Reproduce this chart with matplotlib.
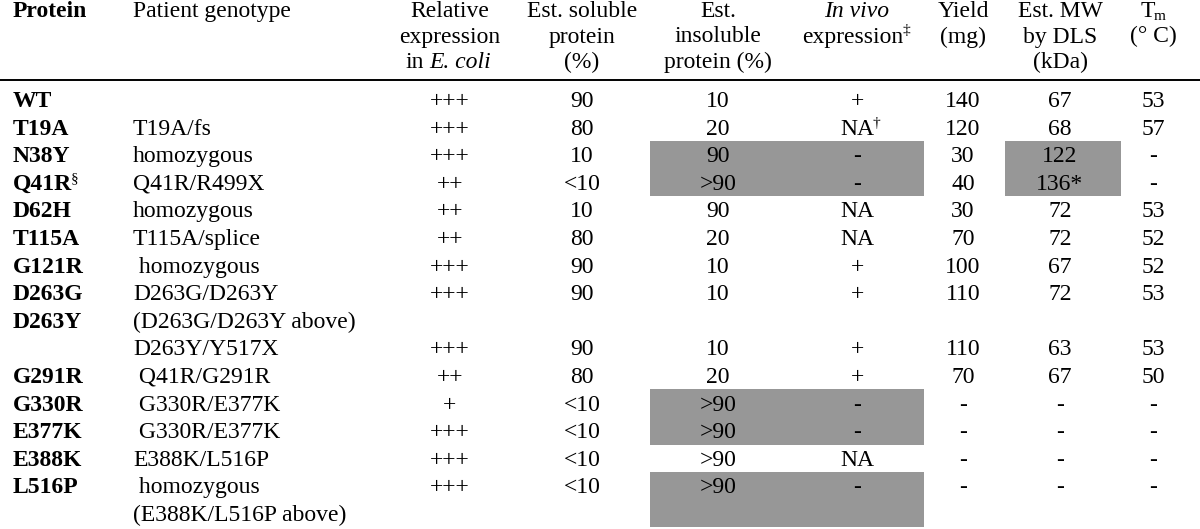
import matplotlib
matplotlib.use("Agg")
import matplotlib.pyplot as plt
from matplotlib.patches import Rectangle

plt.rcParams.update({
    'font.family': 'Liberation Serif',
    'font.size': 17,
})

# table content, one entry per printed line
protein = ['WT', 'T19A', 'N38Y', 'Q41R', 'D62H', 'T115A', 'G121R', 'D263G',
           'D263Y', '', 'G291R', 'G330R', 'E377K', 'E388K', 'L516P', '']
protein_sup = {3: '§'}
genotype = ['', 'T19A/fs', 'homozygous', 'Q41R/R499X', 'homozygous', 'T115A/splice',
            ' homozygous', 'D263G/D263Y', '(D263G/D263Y above)', 'D263Y/Y517X',
            ' Q41R/G291R', ' G330R/E377K', ' G330R/E377K', 'E388K/L516P',
            ' homozygous', '(E388K/L516P above)']
rel_expr = ['+++', '+++', '+++', '++', '++', '++', '+++', '+++', '', '+++', '++', '+',
            '+++', '+++', '+++', '']
soluble = ['90', '80', '10', '<10', '10', '80', '90', '90', '', '90', '80', '<10',
           '<10', '<10', '<10', '']
insoluble = ['10', '20', '90', '>90', '90', '20', '10', '10', '', '10', '20', '>90',
             '>90', '>90', '>90', '']
in_vivo = ['+', 'NA', '-', '-', 'NA', 'NA', '+', '+', '', '+', '+', '-', '-',
           'NA', '-', '']
in_vivo_sup = {1: '†'}
yield_mg = ['140', '120', '30', '40', '30', '70', '100', '110', '', '110', '70', '-',
            '-', '-', '-', '']
mw = ['67', '68', '122', '136*', '72', '72', '67', '72', '', '63', '67', '-', '-', '-',
      '-', '']
tm = ['53', '57', '-', '-', '53', '52', '52', '53', '', '53', '50', '-', '-', '-', '-', '']

# shaded (aggregated) lines
agg_rows = [2, 3, 11, 12, 14, 15]
mw_agg_rows = [2, 3]

fig = plt.figure(figsize=(12, 5.29), dpi=100)
ax = fig.add_axes([0, 0, 1, 1])
ax.set_xlim(0, 1200)
ax.set_ylim(529, 0)
ax.axis('off')
renderer = fig.canvas.get_renderer()
inv = ax.transData.inverted()

row_h = 27.6
top = 99.5
base_off = 7.5


def right_edge(t):
    bb = t.get_window_extent(renderer)
    return inv.transform((bb.x1, bb.y0))[0]


def sup(t, y, s, dy=-8, gap=-1.5, **kw):
    # small superscript / subscript glued to the right of text t
    ax.text(right_edge(t) + gap, y + dy, s, fontsize=11, ha='left', va='baseline', **kw)


def runs(rows):
    out = []
    for r in rows:
        if out and out[-1][1] == r - 1:
            out[-1][1] = r
        else:
            out.append([r, r])
    return out


for a, b in runs(agg_rows):
    y0 = top + a * row_h - row_h / 2
    h = min((b - a + 1) * row_h, 529 - y0)
    ax.add_patch(Rectangle((650, y0), 274, h, facecolor='#979797', lw=0, zorder=0))
for a, b in runs(mw_agg_rows):
    y0 = top + a * row_h - row_h / 2
    ax.add_patch(Rectangle((1005, y0), 116, (b - a + 1) * row_h,
                           facecolor='#979797', lw=0, zorder=0))

# header
hy = [17, 42.5, 68]
ax.text(13, hy[0], 'Protein', fontweight='bold', va='baseline', ha='left')
ax.text(133, hy[0], 'Patient genotype', va='baseline', ha='left')

for k, s in enumerate(['Relative', 'expression']):
    ax.text(450, hy[k], s, ha='center', va='baseline')
t_in = ax.text(405, hy[2], 'in', ha='left', va='baseline')
ax.text(right_edge(t_in) + 6, hy[2], 'E. coli', ha='left', va='baseline',
        fontstyle='italic')
for lines, xc in [(['Est. soluble', 'protein', '(%)'], 582),
                  (['Est.', 'insoluble', 'protein (%)'], 718),
                  (['Yield', '(mg)'], 963),
                  (['Est. MW', 'by DLS', '(kDa)'], 1060)]:
    for k, s in enumerate(lines):
        ax.text(xc, hy[k], s, ha='center', va='baseline')
ax.text(857, hy[0], 'In vivo', ha='center', va='baseline', fontstyle='italic')
t_ex = ax.text(853, hy[1], 'expression', ha='center', va='baseline')
sup(t_ex, hy[1], '‡')
t_t = ax.text(1141, hy[0], 'T', ha='left', va='baseline')
sup(t_t, hy[0], 'm', dy=3, gap=-2)
ax.text(1153, hy[1], '(° C)', ha='center', va='baseline')

ax.plot([0, 1200], [80, 80], color='black', lw=1.4, solid_capstyle='butt')

# body
cols = [(rel_expr, 450), (soluble, 582), (insoluble, 718),
        (yield_mg, 963), (mw, 1060), (tm, 1153)]
for i in range(len(protein)):
    yb = top + i * row_h + base_off
    tp = ax.text(13, yb, protein[i], fontweight='bold', ha='left', va='baseline')
    if i in protein_sup:
        sup(tp, yb, protein_sup[i])
    ax.text(133, yb, genotype[i], ha='left', va='baseline')
    for vals, xc in cols:
        ax.text(xc, yb, vals[i], ha='center', va='baseline')
    tv = ax.text(857, yb, in_vivo[i], ha='center', va='baseline')
    if i in in_vivo_sup:
        sup(tv, yb, in_vivo_sup[i])

fig.savefig('out.png', dpi=100)
